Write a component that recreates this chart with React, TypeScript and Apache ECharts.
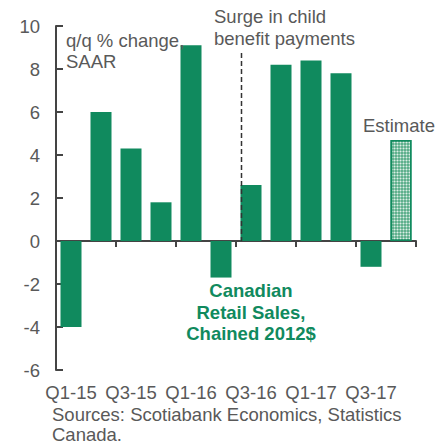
import React, { useEffect, useRef } from "react";
import * as echarts from "echarts";

const categories = ["Q1-15","Q2-15","Q3-15","Q4-15","Q1-16","Q2-16","Q3-16","Q4-16","Q1-17","Q2-17","Q3-17","Q4-17"];
const actualValues: (number | null)[] = [-4.0, 6.0, 4.3, 1.8, 9.1, -1.7, 2.6, 8.2, 8.4, 7.8, -1.2, null];
const estimateValues: (number | null)[] = [null, null, null, null, null, null, null, null, null, null, null, 4.7];
const yTicks = { min: -6, max: 10, interval: 2 };

const GREEN = "#108a5e";
const GREY = "#595959";
const FONT = "Liberation Sans, Arial, sans-serif";
const FS = 18.5;

export default function App() {
  const ref = useRef<HTMLDivElement>(null);
  useEffect(() => {
    if (!ref.current) return;
    const chart = echarts.init(ref.current, null, { renderer: "svg" });
    const option: any = {
      animation: false,
      grid: { left: 56, right: 22, top: 26, bottom: 74, containLabel: false },
      xAxis: [
        {
          type: "category",
          data: categories,
          axisLine: { onZero: true, lineStyle: { color: "#444", width: 2 } },
          axisTick: { show: true, length: 6, lineStyle: { color: "#444", width: 2 } },
          axisLabel: { show: false },
        },
        {
          type: "category",
          data: categories,
          position: "bottom",
          axisLine: { show: false, onZero: false },
          axisTick: { show: false },
          axisLabel: { show: true, interval: 1, color: GREY, fontSize: FS, fontFamily: FONT, margin: 13 },
        },
      ],
      yAxis: {
        type: "value",
        min: yTicks.min,
        max: yTicks.max,
        interval: yTicks.interval,
        splitLine: { show: false },
        axisLine: { show: true, lineStyle: { color: "#444", width: 2 } },
        axisTick: { show: true, inside: true, length: 7, lineStyle: { color: "#444", width: 2 } },
        axisLabel: { color: GREY, fontSize: FS, fontFamily: FONT, margin: 16 },
      },
      series: [
        {
          type: "bar",
          data: actualValues,
          barWidth: "70%",
          barGap: "-100%",
          itemStyle: { color: GREEN },
        },
        {
          type: "bar",
          data: estimateValues,
          barWidth: "70%",
          itemStyle: {
            color: "#4fa882",
            borderColor: GREEN,
            borderWidth: 1.5,
            decal: {
              symbol: "circle",
              symbolSize: 0.7,
              color: "rgba(255,255,255,0.8)",
              dashArrayX: [3, 0],
              dashArrayY: [3, 0],
              rotation: 0,
            },
          },
        },
      ],
    };
    chart.setOption(option);

    const half = 10.5;
    const p0 = chart.convertToPixel({ xAxisIndex: 0, yAxisIndex: 0 } as any, ["Q3-16", 0]) as number[];
    const lineX = Math.round(p0[0] - half) + 0.5;

    chart.setOption({
      graphic: [
        {
          type: "line", z: 50,
          shape: { x1: lineX, y1: 53, x2: lineX, y2: p0[1] },
          style: { stroke: "#333", lineWidth: 1.5, lineDash: [5, 3] },
        },
        {
          type: "text", left: 66, top: 30, z: 100,
          style: { text: "q/q % change,\nSAAR", fill: GREY, fontSize: FS, fontFamily: FONT, lineHeight: 21 },
        },
        {
          type: "text", left: 214, top: 5, z: 100,
          style: { text: "Surge in child\nbenefit payments", fill: GREY, fontSize: FS, fontFamily: FONT, lineHeight: 22 },
        },
        {
          type: "text", left: 363, top: 116, z: 100,
          style: { text: "Estimate", fill: GREY, fontSize: FS, fontFamily: FONT },
        },
        {
          type: "text", x: 251, y: 280, z: 100,
          style: {
            text: "Canadian\nRetail Sales,\nChained 2012$", fill: GREEN, fontSize: FS, fontWeight: "bold",
            fontFamily: FONT, lineHeight: 21.5, align: "center",
          },
        },
        {
          type: "text", left: 52, top: 404, z: 100,
          style: { text: "Sources: Scotiabank Economics, Statistics\nCanada.", fill: GREY, fontSize: FS, fontFamily: FONT, lineHeight: 20.5 },
        },
      ],
    });
    return () => chart.dispose();
  }, []);
  return <div ref={ref} style={{ width: 438, height: 444, position: "absolute", left: 0, top: 0 }} />;
}
